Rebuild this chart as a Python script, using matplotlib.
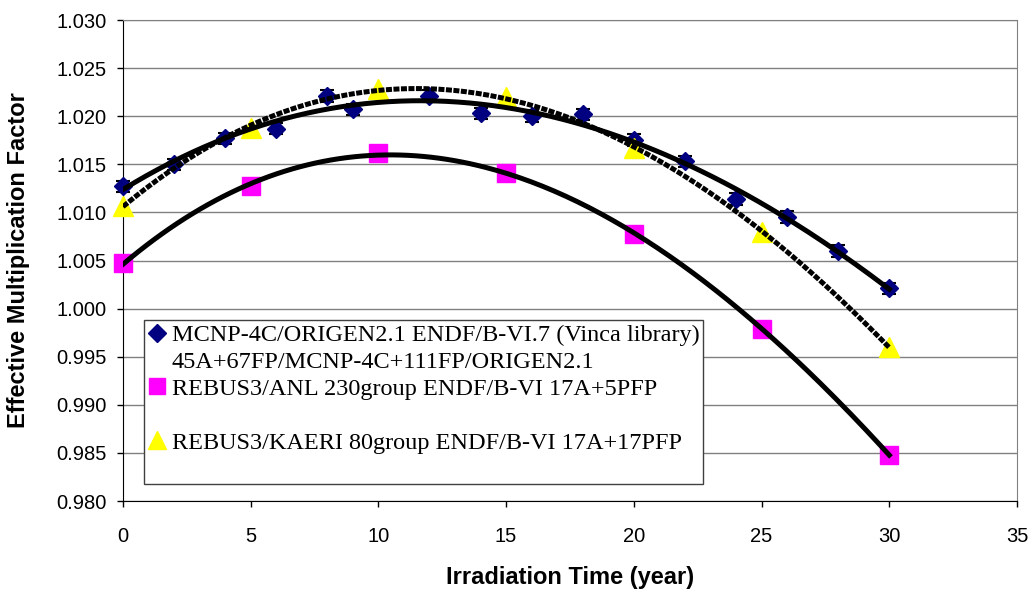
import matplotlib.pyplot as plt
import numpy as np
from matplotlib.lines import Line2D

# MCNP-4C/ORIGEN2.1 results (with error bars)
mcnp_years = [0, 2, 4, 6, 8, 9, 12, 14, 16, 18, 20, 22, 24, 26, 28, 30]
mcnp_keff = [1.0127, 1.0150, 1.0177, 1.0187, 1.0221, 1.0207, 1.0221, 1.0203,
             1.0200, 1.0202, 1.0175, 1.0153, 1.0114, 1.0095, 1.0060, 1.0021]
mcnp_err = 0.0006

# REBUS3/ANL results
anl_years = [0, 5, 10, 15, 20, 25, 30]
anl_keff = [1.0047, 1.0127, 1.0162, 1.0141, 1.0078, 0.9979, 0.9848]

# REBUS3/KAERI results
kaeri_years = [0, 5, 10, 15, 20, 25, 30]
kaeri_keff = [1.0107, 1.0188, 1.0228, 1.0220, 1.0167, 1.0080, 0.9960]

# legend rows (blank rows keep the excel spacing)
labels = ["MCNP-4C/ORIGEN2.1 ENDF/B-VI.7 (Vinca library)",
          "45A+67FP/MCNP-4C+111FP/ORIGEN2.1",
          "REBUS3/ANL 230group ENDF/B-VI 17A+5PFP",
          " ",
          "REBUS3/KAERI 80group ENDF/B-VI 17A+17PFP",
          " "]


def trend(x, y, degree=3):
    # excel-style polynomial trendline
    poly = np.poly1d(np.polyfit(x, y, degree))
    xs = np.linspace(min(x), max(x), 200)
    return xs, poly(xs)


fig = plt.figure(figsize=(10.35, 5.92), dpi=100)
ax = fig.add_axes([0.1188, 0.1537, 0.8638, 0.8125])

ax.errorbar(mcnp_years, mcnp_keff, yerr=mcnp_err, fmt='none', ecolor='black',
            elinewidth=1.2, capsize=5, capthick=1.5, zorder=3, clip_on=False)
ax.plot(mcnp_years, mcnp_keff, 'D', color='#000080', markersize=9, zorder=4,
        clip_on=False)
ax.plot(anl_years, anl_keff, 's', color='#FF00FF', markersize=13, zorder=4,
        clip_on=False)
ax.plot(kaeri_years, kaeri_keff, '^', color='#FFFF00', markersize=14, zorder=4,
        clip_on=False)

xs, ys = trend(mcnp_years, mcnp_keff)
ax.plot(xs, ys, color='black', linewidth=3.6, zorder=5)
xs, ys = trend(anl_years, anl_keff)
ax.plot(xs, ys, color='black', linewidth=3.6, zorder=5)
xs, ys = trend(kaeri_years, kaeri_keff)
ax.plot(xs, ys, color='black', linewidth=3.6, linestyle=(0, (1.2, 0.3)),
        dash_capstyle='butt', zorder=5)

ax.set_xlim(0, 35)
ax.set_ylim(0.980, 1.030)
ax.set_xticks(np.arange(0, 36, 5))
ax.set_yticks(np.arange(0.980, 1.0301, 0.005))
ax.yaxis.set_major_formatter(plt.FormatStrFormatter('%.3f'))
ax.grid(axis='y', color='#808080', linewidth=1.0)
ax.set_axisbelow(True)
ax.tick_params(direction='out', length=4, width=1, labelsize=14.5,
               colors='black')
ax.tick_params(axis='y', pad=8)
ax.tick_params(axis='x', pad=15)
for tick in ax.get_xticklabels() + ax.get_yticklabels():
    tick.set_fontfamily('Liberation Sans')
for side in ['top', 'right']:
    ax.spines[side].set_color('#808080')
for side in ['left', 'bottom']:
    ax.spines[side].set_color('black')

ax.set_xlabel("Irradiation Time (year)", fontsize=17, fontweight='bold',
              family='Liberation Sans')
ax.set_ylabel("Effective Multiplication Factor", fontsize=17,
              fontweight='bold', family='Liberation Sans')
ax.xaxis.set_label_coords(0.5, -0.135)
ax.yaxis.set_label_coords(-0.104, 0.5)

blank = Line2D([], [], linestyle='none')
handles = [Line2D([], [], marker='D', color='#000080', linestyle='none', markersize=9),
           blank,
           Line2D([], [], marker='s', color='#FF00FF', linestyle='none', markersize=12),
           blank,
           Line2D([], [], marker='^', color='#FFFF00', linestyle='none', markersize=13),
           blank]
leg = ax.legend(handles, labels, loc='lower left', bbox_to_anchor=(0.0235, 0.035),
                prop={'family': 'Liberation Serif', 'size': 17.5},
                frameon=True, fancybox=False, edgecolor='#404040', framealpha=1,
                handlelength=0.75, handletextpad=0.25, labelspacing=0.2,
                borderpad=0.15, borderaxespad=0)
leg.get_frame().set_linewidth(1.0)

fig.savefig("out.png", dpi=100)
